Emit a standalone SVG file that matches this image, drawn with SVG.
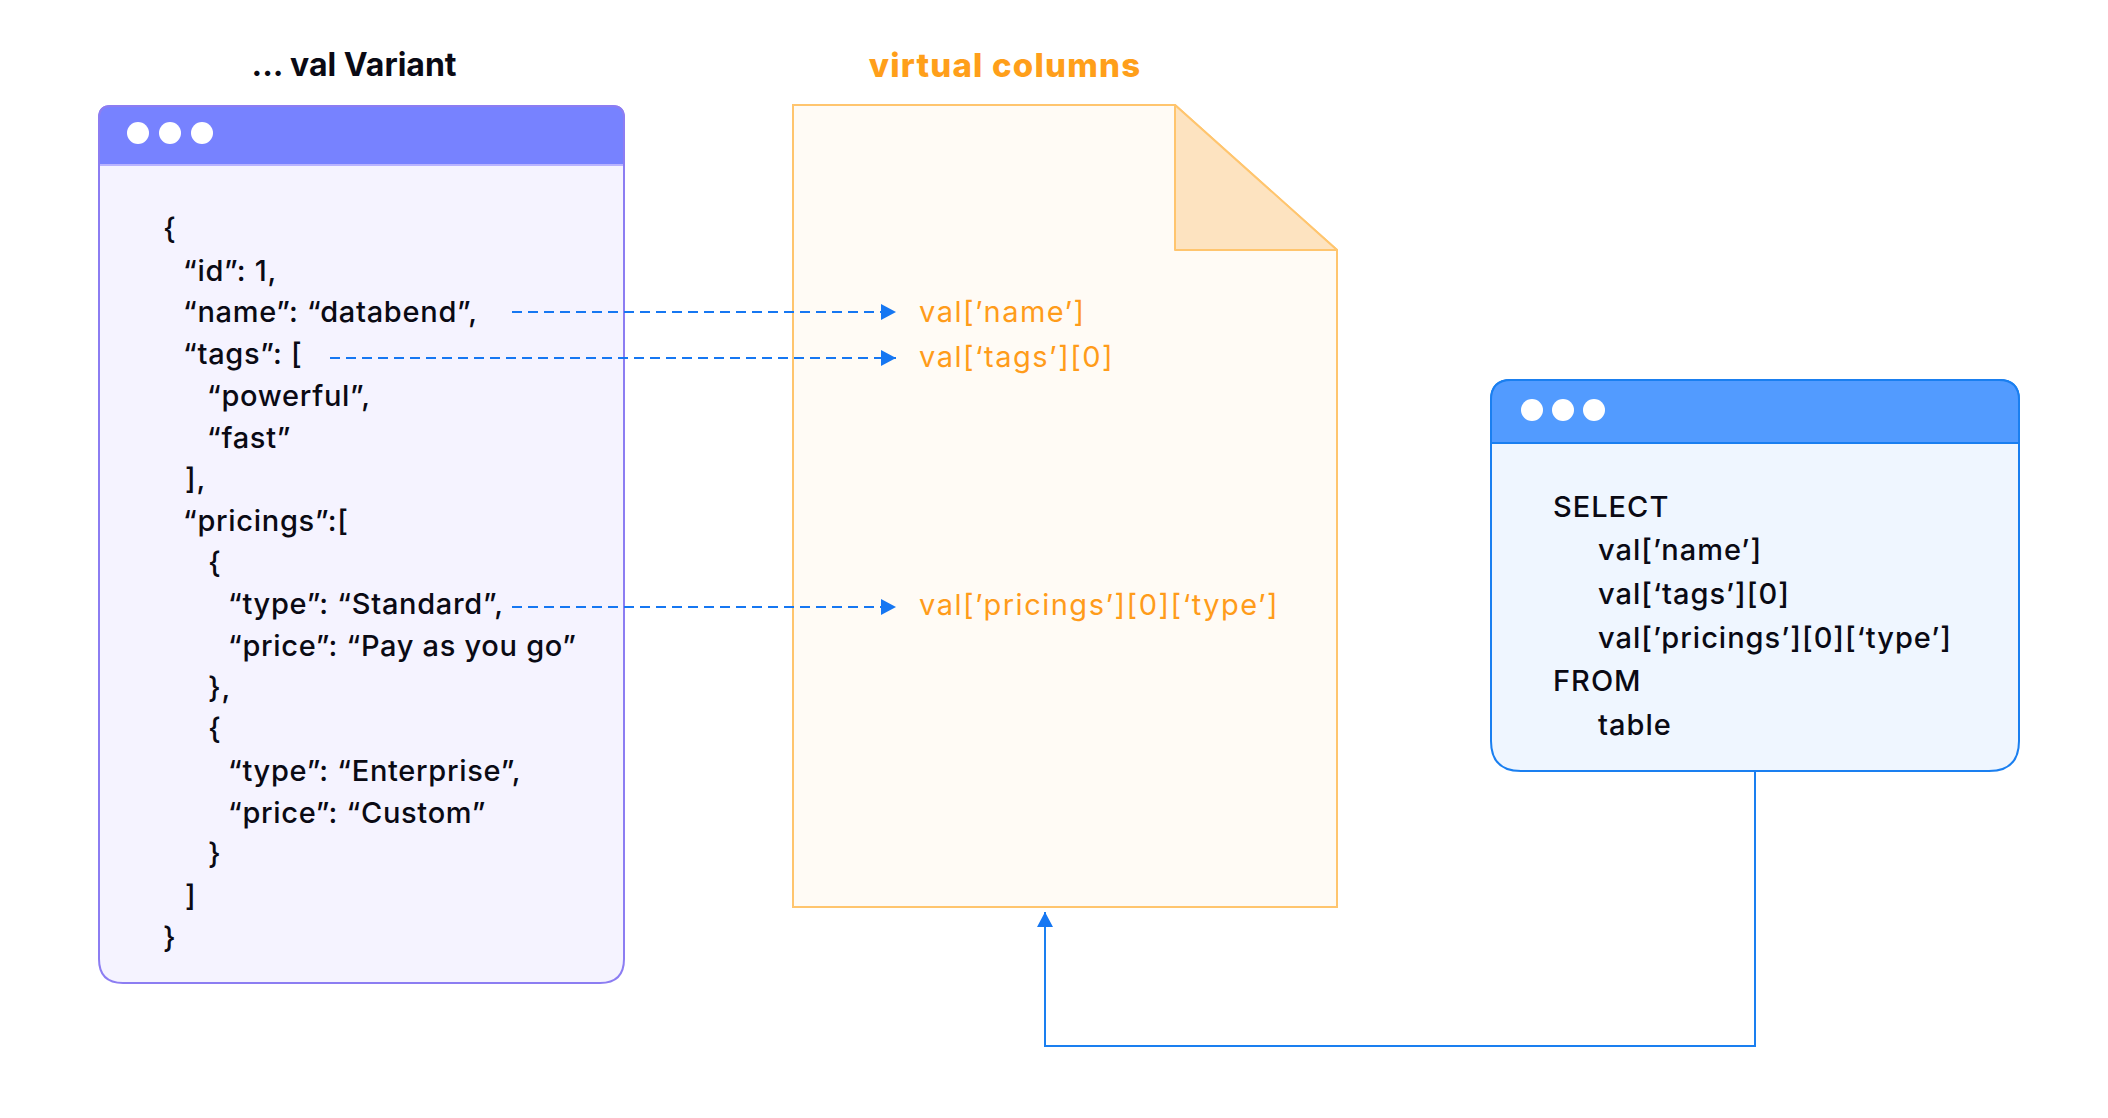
<svg xmlns="http://www.w3.org/2000/svg" width="2108" height="1118" viewBox="0 0 2108 1118">
<defs>
<style>
.code{font-family:Inter,"Noto Sans",sans-serif;font-size:29px;font-weight:500;letter-spacing:0.7px;fill:#0a0a14;}
.sql{letter-spacing:1px;}
.orange{font-family:Inter,"Noto Sans",sans-serif;font-size:29px;font-weight:400;letter-spacing:1.5px;fill:#FF9C1A;}
.title{font-family:Inter,"Noto Sans",sans-serif;font-size:32px;font-weight:700;}
.vc{font-size:33px;font-weight:800;letter-spacing:1.2px;}
.dot{fill:#ffffff;}
.dash{fill:none;stroke:#1677F2;stroke-width:2;stroke-dasharray:10 6;}
.solid{fill:none;stroke:#1A7FF0;stroke-width:2;}
</style>
<marker id="ah" viewBox="0 0 15 16" refX="15" refY="8" markerWidth="15" markerHeight="16" markerUnits="userSpaceOnUse" orient="auto">
<path d="M0,0 L15,8 L0,16 Z" fill="#1677F2"/>
</marker>
</defs>
<rect width="2108" height="1118" fill="#ffffff"/>

<g id="variant-window">
<text class="title" x="354" y="76" text-anchor="middle" fill="#0a0a14">... val Variant</text>
<path d="M111,106 H612 Q624,106 624,118 V959 Q624,983 600,983 H123 Q99,983 99,959 V118 Q99,106 111,106 Z" fill="#F5F3FF" stroke="#8C7DF2" stroke-width="2"/>
<path d="M111,106 H612 Q624,106 624,118 V165 H99 V118 Q99,106 111,106 Z" fill="#7782FF" stroke="#8C7DF2" stroke-width="2"/>
<line x1="100" y1="165" x2="623" y2="165" stroke="#B9B3FF" stroke-width="2"/>
<circle class="dot" cx="138" cy="133" r="11"/>
<circle class="dot" cx="170" cy="133" r="11"/>
<circle class="dot" cx="202" cy="133" r="11"/>
<text class="code" x="163" y="239">{</text>
<text class="code" x="183" y="281">“id”: 1,</text>
<text class="code" x="183" y="322">“name”: “databend”,</text>
<text class="code" x="183" y="364">“tags”: [</text>
<text class="code" x="207" y="406">“powerful”,</text>
<text class="code" x="207" y="448">“fast”</text>
<text class="code" x="185" y="489">],</text>
<text class="code" x="183" y="531">“pricings”:[</text>
<text class="code" x="208" y="573">{</text>
<text class="code" x="228" y="614">“type”: “Standard”,</text>
<text class="code" x="228" y="656">“price”: “Pay as you go”</text>
<text class="code" x="208" y="698">},</text>
<text class="code" x="208" y="739">{</text>
<text class="code" x="228" y="781">“type”: “Enterprise”,</text>
<text class="code" x="228" y="823">“price”: “Custom”</text>
<text class="code" x="208" y="864">}</text>
<text class="code" x="185" y="906">]</text>
<text class="code" x="163" y="948">}</text>
</g>

<g id="virtual-columns">
<text class="title vc" x="1005" y="77" text-anchor="middle" fill="#FF9F1A">virtual columns</text>
<path d="M793,105 H1175 L1337,250 V907 H793 Z" fill="#FFFBF5" stroke="#FFC56E" stroke-width="2"/>
<path d="M1175,105 L1337,250 H1175 Z" fill="#FDE3C0" stroke="#FFC56E" stroke-width="2" stroke-linejoin="round"/>
<text class="orange" x="919" y="322">val[’name’]</text>
<text class="orange" x="919" y="367">val[‘tags’][0]</text>
<text class="orange" x="919" y="615">val[’pricings’][0][‘type’]</text>
</g>

<g id="sql-window">
<path d="M1511,380 H1999 Q2019,380 2019,400 V741 Q2019,771 1989,771 H1521 Q1491,771 1491,741 V400 Q1491,380 1511,380 Z" fill="#EFF6FF" stroke="#1A7FF0" stroke-width="2"/>
<path d="M1511,380 H1999 Q2019,380 2019,400 V443 H1491 V400 Q1491,380 1511,380 Z" fill="#529BFF" stroke="#1A7FF0" stroke-width="2"/>
<circle class="dot" cx="1532" cy="410" r="11"/>
<circle class="dot" cx="1563" cy="410" r="11"/>
<circle class="dot" cx="1594" cy="410" r="11"/>
<text class="code sql" x="1553" y="517">SELECT</text>
<text class="code sql" x="1598" y="560">val[’name’]</text>
<text class="code sql" x="1598" y="604">val[‘tags’][0]</text>
<text class="code sql" x="1598" y="648">val[’pricings’][0][‘type’]</text>
<text class="code sql" x="1553" y="691">FROM</text>
<text class="code sql" x="1598" y="735">table</text>
</g>

<g id="connectors">
<line class="dash" x1="512" y1="312" x2="896" y2="312" marker-end="url(#ah)"/>
<line class="dash" x1="330" y1="358" x2="896" y2="358" marker-end="url(#ah)"/>
<line class="dash" x1="512" y1="607" x2="896" y2="607" marker-end="url(#ah)"/>
<path class="solid" d="M1755,771 V1046 H1045 V912" marker-end="url(#ah)"/>
</g>
</svg>
